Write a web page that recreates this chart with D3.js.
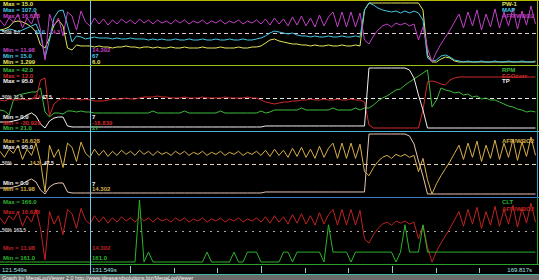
<!DOCTYPE html>
<html>
<head>
<meta charset="utf-8">
<script src="https://cdn.jsdelivr.net/npm/d3@7"></script>
<style>
body { margin: 0; background: #000; }
svg { display: block; }
text { font-family: "Liberation Sans", Arial, sans-serif; }
</style>
</head>
<body>
<svg id="chart" width="539" height="280"></svg>
<script>
// log window
var logStart = 121.549,
    viewSeconds = 59.667,
    sampleStep = 0.5,
    cursorTime = 131.549;

var timeLabels = ["121.549s", "131.549s", "169.817s"];
var tickTimes = [136.0, 140.85, 145.7, 150.55, 155.4, 160.25, 165.1, 169.95, 174.8];
var majorTicks = [136.0, 150.55, 165.1];

// logged channels, one record every sampleStep seconds
var afr = [15.29,14.82,15.45,15.13,15.76,14.66,15.45,14.97,15.92,14.50,
    12.14,15.76,14.82,15.45,14.03,15.92,15.60,14.50,16.00,15.13,
    14.82,15.45,14.97,15.37,14.89,15.29,14.97,15.37,15.05,15.29,
    14.97,15.37,15.05,15.29,14.97,15.29,15.05,15.21,14.97,15.29,
    15.05,15.29,14.97,15.21,15.05,15.29,14.97,15.21,15.05,15.29,
    14.97,15.21,15.05,15.29,14.97,15.21,15.05,15.29,14.97,15.37,
    14.89,15.45,14.97,15.37,14.82,15.53,14.89,15.60,14.82,15.45,
    14.74,15.68,14.82,15.53,15.92,14.74,15.92,14.74,15.92,14.74,
    15.84,13.71,13.40,14.03,14.50,14.82,14.97,14.74,15.05,14.89,
    15.05,14.82,14.97,13.71,14.74,13.08,11.98,12.77,13.40,13.95,
    14.50,15.13,15.76,14.66,15.92,14.82,16.08,14.50,15.76,14.74,
    16.16,14.66,15.92,14.82,16.23,14.58,16.00,14.89,16.39,14.97];

var map = [64.9,63.3,66.5,64.9,61.8,64.9,68.0,71.1,74.3,58.7,
    21.3,49.3,83.6,94.5,96.1,72.7,46.2,55.6,54.0,50.9,
    52.4,54.0,52.4,52.4,52.4,50.9,52.4,50.9,50.9,52.4,
    50.9,50.9,50.9,49.3,50.9,49.3,50.9,49.3,49.3,50.9,
    49.3,49.3,50.9,49.3,49.3,50.9,49.3,49.3,50.9,49.3,
    49.3,50.9,49.3,49.3,50.9,49.3,49.3,50.9,52.4,55.6,
    60.2,63.3,61.8,60.2,58.7,60.2,57.1,55.6,55.6,54.0,
    55.6,54.0,54.0,55.6,54.0,54.0,55.6,54.0,54.0,55.6,
    54.0,96.1,107.0,103.9,99.2,96.1,94.5,93.0,94.5,91.4,
    94.5,91.4,94.5,91.4,80.5,21.3,16.6,18.1,24.4,25.9,
    22.8,18.1,16.6,15.0,16.6,15.0,15.0,16.6,15.0,15.0,
    16.6,15.0,15.0,16.6,15.0,15.0,16.6,15.0,15.0,16.6];

var pw1 = [8.73,8.96,9.43,10.59,10.82,10.59,10.12,9.43,8.27,5.25,
    4.55,6.87,9.89,11.05,9.66,4.55,4.09,5.25,5.02,5.02,
    5.02,4.78,5.02,4.78,4.78,4.55,4.78,4.78,5.02,4.78,
    4.78,4.55,4.78,4.78,4.55,4.78,4.55,4.55,4.78,4.55,
    4.55,4.78,4.55,4.55,4.55,4.78,4.55,4.55,4.55,4.78,
    4.55,4.55,4.55,4.78,4.55,4.55,4.78,4.78,5.02,5.71,
    6.41,6.64,6.18,5.94,5.71,5.48,5.48,5.25,5.25,5.02,
    5.25,5.02,5.02,5.25,5.02,5.02,5.25,5.02,5.02,5.25,
    5.02,13.37,15.0,15.0,15.0,15.0,15.0,15.0,15.0,15.0,
    15.0,15.0,15.0,15.0,13.37,2.93,1.30,1.30,2.00,2.46,
    2.23,1.53,1.30,1.30,1.30,1.30,1.30,1.30,1.30,1.30,
    1.30,1.30,1.30,1.30,1.30,1.30,1.30,1.30,1.30,1.30];

var rpm = [27.3,26.95,25.55,30.8,32.55,32.9,33.25,33.6,33.6,35.0,
    26.6,24.85,26.25,26.25,25.9,26.95,26.95,26.6,26.95,26.6,
    26.6,26.25,26.25,26.25,26.25,26.25,26.25,26.25,26.25,26.25,
    26.25,26.25,26.25,26.25,26.95,26.25,26.25,26.25,26.25,26.25,
    26.25,26.95,26.25,26.25,26.25,26.25,26.25,26.25,26.25,26.95,
    26.25,26.25,26.25,26.25,26.25,26.25,26.25,26.25,26.95,26.25,
    26.6,27.3,27.3,27.3,27.3,27.3,27.3,28.0,27.3,27.3,
    27.3,27.3,27.3,27.3,28.0,27.3,27.3,27.3,27.3,28.0,
    27.3,28.0,28.0,29.05,30.45,31.5,32.2,33.25,34.3,34.65,
    36.05,37.1,38.15,39.2,40.25,41.3,28.35,30.8,35.0,34.3,
    33.95,33.25,33.6,32.55,32.9,31.85,32.2,31.15,31.5,30.8,
    30.8,30.1,29.4,28.7,28.35,27.65,27.3,26.6,26.95,26.6];

var egoCorr = [-10.90,-11.61,-10.18,-10.90,-10.90,-10.18,-10.90,-10.18,-9.47,3.41,
    4.85,-22.34,-13.76,-10.90,-9.47,-10.18,-10.18,-10.18,-10.90,-10.18,
    -10.90,-11.61,-11.61,-11.61,-10.90,-10.18,-10.18,-10.18,-9.47,-10.18,
    -10.18,-9.47,-8.75,-8.75,-8.75,-8.03,-8.75,-8.75,-9.47,-9.47,
    -9.47,-8.75,-9.47,-9.47,-9.47,-8.75,-9.47,-9.47,-9.47,-9.47,
    -8.75,-9.47,-9.47,-9.47,-9.47,-8.75,-9.47,-9.47,-10.90,-12.33,
    -13.04,-13.76,-13.04,-12.33,-12.33,-11.61,-11.61,-10.90,-10.90,-10.18,
    -10.90,-10.90,-10.18,-10.90,-10.90,-10.18,-10.90,-10.90,-10.18,-10.90,
    -10.90,-12.33,-28.78,-30.93,-30.93,-30.93,-30.93,-30.93,-30.93,-30.93,
    -30.93,-30.93,-30.93,-30.93,-18.05,1.98,2.70,1.98,0.55,-0.16,
    3.41,4.85,5.56,5.56,5.56,5.56,5.56,5.56,5.56,5.56,
    5.56,5.56,5.56,5.56,5.56,5.56,5.56,5.56,5.56,5.56];

var tp = [9.5,9.5,9.5,11.1,12.7,15.8,20.6,23.8,19.0,6.3,
    0.0,11.1,15.8,17.4,17.4,3.2,1.6,1.6,1.6,1.6,
    1.6,1.6,1.6,1.6,1.6,1.6,1.6,1.6,1.6,1.6,
    1.6,1.6,1.6,1.6,1.6,1.6,1.6,1.6,1.6,1.6,
    1.6,1.6,1.6,1.6,1.6,1.6,1.6,1.6,1.6,1.6,
    1.6,1.6,1.6,1.6,1.6,1.6,1.6,1.6,1.6,3.2,
    3.2,3.2,3.2,3.2,3.2,3.2,3.2,3.2,3.2,3.2,
    3.2,3.2,3.2,3.2,3.2,3.2,3.2,3.2,3.2,3.2,
    3.2,3.2,95.0,95.0,95.0,95.0,95.0,95.0,95.0,95.0,
    95.0,91.8,79.2,52.3,28.5,0.0,0.0,0.0,0.0,0.0,
    0.0,0.0,0.0,0.0,0.0,0.0,0.0,0.0,0.0,0.0,
    0.0,0.0,0.0,0.0,0.0,0.0,0.0,0.0,0.0,0.0];

var clt = [161,161,161,161,161,161,161,161,161,161,
    161,161,161,161,161,161,161,161,161,161,
    161,161,161,161,161,161,161,161,161,161,
    161,166,161,161.8,161,161,161,161,161,161,
    161,161,161,161,161,161,161.8,161,161,161,
    161,161,161.8,161,161,161.8,161.8,161.8,161,161,
    161,161,161,161.8,161.8,161,161.8,161.8,161.8,161.8,
    161.8,161.8,161,164,161.8,161.8,161.8,161.8,161,161.8,
    161.8,161.8,161.8,161.8,161.8,161.8,161.8,161.8,161,161.8,
    164,161.8,161.8,161.8,164,161.8,161.8,161.8,161.8,161.8,
    161.8,161.8,161.8,161.8,161.8,161.8,161.8,161.8,161.8,161.8,
    161.8,161.8,161.8,161.8,161.8,161.8,161.8,161.8,161.8,161.8];

var svg = d3.select("#chart"),
    plotRight = 537;

var x = d3.scaleLinear()
    .domain([logStart, logStart + viewSeconds])
    .range([0, plotRight]);

var C = {
    yellow: "#e6e65c", cyan: "#44c8e4", magenta: "#c440c8", green: "#3cbc3c",
    red: "#d02a2a", white: "#f2f2f2", gold: "#d8b04a", pink: "#e8c4b4",
    darkred: "#c02222", cltGreen: "#2cb42c", grey: "#cfcfcf"
};

// panel bands, series and the text rows MegaLogViewer writes on them
var panels = [
    {top: 3, bottom: 62, band: [0, 65], edge: "#b8b800", mid: "#e2c8d2", dash: "4,3",
     series: [
        {data: pw1, lo: 1.299, hi: 15, color: C.yellow},
        {data: map, lo: 15, hi: 107, color: C.cyan},
        {data: afr, lo: 11.98, hi: 16.628, color: C.magenta}],
     left: [["Max = 15.0", C.yellow, 3.5], ["Max = 107.0", C.cyan, 9.5], ["Max = 16.628", C.magenta, 15.5],
            ["Min = 11.98", C.magenta, 49.5], ["Min = 15.0", C.cyan, 55.5], ["Min = 1.299", C.yellow, 61.5]],
     cursor: [["14.302", C.magenta, 49.5], ["67", C.cyan, 55.5], ["6.0", C.yellow, 61.5]],
     midText: [["50% 8.1", C.grey, 2], ["61.0", C.cyan, 35], ["14.3", C.magenta, 50]],
     names: [["PW-1", C.yellow, 3.5], ["MAP", C.cyan, 9.5], ["AFR/WBO2", C.magenta, 15.5]]},
    {top: 68, bottom: 128, band: [65, 131], edge: "#48b448", mid: "#e6e6e6", dash: "4,3",
     series: [
        {data: rpm, lo: 21, hi: 42, color: C.green},
        {data: egoCorr, lo: -30.928, hi: 12, color: C.red},
        {data: tp, lo: 0, hi: 95, color: C.white}],
     left: [["Max = 42.0", C.green, 70], ["Max = 12.0", C.red, 75.5], ["Max = 95.0", C.white, 81],
            ["Min = 0.0", C.white, 117], ["Min = -30.928", C.red, 122.5], ["Min = 21.0", C.green, 128]],
     cursor: [["7", C.white, 117], ["-16.839", C.red, 122.5], ["27", C.green, 128]],
     midText: [["50% 31.5", C.grey, 2], ["-9.4", C.red, 32], ["47.5", C.white, 42]],
     names: [["RPM", C.green, 70], ["EGOcorr", C.red, 75.5], ["TP", C.white, 81]]},
    {top: 134, bottom: 194, band: [131, 197], edge: "#3c9cd0", mid: "#e2d2b2", dash: "4,3",
     series: [
        {data: tp, lo: 0, hi: 95, color: C.pink},
        {data: afr, lo: 11.98, hi: 16.628, color: C.gold}],
     left: [["Max = 16.628", C.gold, 140.5], ["Max = 95.0", C.white, 146.5],
            ["Min = 0.0", C.white, 183], ["Min = 11.98", C.gold, 188.5]],
     cursor: [["7", C.white, 184], ["14.302", C.gold, 189]],
     midText: [["50%", C.grey, 2], ["14.3", C.gold, 30], ["47.5", C.white, 44]],
     names: [["AFR/WBO2", C.gold, 141]]},
    {top: 200, bottom: 262, band: [197, 264], edge: "#2ca02c", mid: "#a8a8a8", dash: "2,5",
     series: [
        {data: afr, lo: 11.98, hi: 16.628, color: C.darkred},
        {data: clt, lo: 161, hi: 166, color: C.cltGreen}],
     left: [["Max = 166.0", C.cltGreen, 201.5], ["Max = 16.628", C.darkred, 212],
            ["Min = 11.98", C.darkred, 248], ["Min = 161.0", C.cltGreen, 258]],
     cursor: [["14.302", C.darkred, 248], ["161.0", C.cltGreen, 258]],
     midText: [["50% 163.5", C.grey, 2]],
     names: [["CLT", C.cltGreen, 201.5], ["AFR/WBO2", C.darkred, 209]]}
];

var defs = svg.append("defs");

panels.forEach(function (p, k) {
    defs.append("clipPath").attr("id", "clip" + k)
        .append("rect").attr("x", 0).attr("y", p.band[0])
        .attr("width", plotRight).attr("height", p.band[1] - p.band[0]);

    var g = svg.append("g");
    var midY = Math.round((p.top + p.bottom) / 2) + 0.5;

    g.append("line")
        .attr("x1", 0).attr("x2", plotRight)
        .attr("y1", midY).attr("y2", midY)
        .attr("stroke", p.mid).attr("stroke-dasharray", p.dash);

    var lines = g.append("g").attr("clip-path", "url(#clip" + k + ")");
    p.series.forEach(function (s) {
        var y = d3.scaleLinear().domain([s.lo, s.hi]).range([p.bottom, p.top]);
        lines.append("path")
            .datum(s.data)
            .attr("fill", "none")
            .attr("stroke", s.color)
            .attr("stroke-width", 1)
            .attr("d", d3.line()
                .x(function (d, i) { return x(logStart + i * sampleStep); })
                .y(function (d) { return y(d); }));
    });

    // labels on the left, at the cursor, on the mid line and at the right
    function rows(list, xPos, size, yFor) {
        g.selectAll(null).data(list).enter().append("text")
            .attr("x", function (d) { return xPos === null ? d[2] : xPos; })
            .attr("y", yFor)
            .attr("dy", "0.35em")
            .attr("fill", function (d) { return d[1]; })
            .style("font-size", size)
            .style("font-weight", "bold")
            .text(function (d) { return d[0]; });
    }
    rows(p.left, 3, "6px", function (d) { return d[2]; });
    rows(p.cursor, x(cursorTime) + 2, "6px", function (d) { return d[2]; });
    rows(p.midText, null, "5px", function () { return midY - 1; });
    rows(p.names, 502, "6px", function (d) { return d[2]; });

    // right border of the band
    g.append("line")
        .attr("x1", plotRight + 0.5).attr("x2", plotRight + 0.5)
        .attr("y1", p.band[0]).attr("y2", p.band[1])
        .attr("stroke", p.edge);
});

// band separators
var separators = [[0.5, "#b8b800"], [65.5, "#94c414"], [131.5, "#4ab4da"], [197.5, "#3c78c8"], [264.5, "#2ca02c"], [274.5, "#3cb4a0"]];
svg.selectAll(null).data(separators).enter().append("line")
    .attr("x1", 0).attr("x2", 539)
    .attr("y1", function (d) { return d[0]; }).attr("y2", function (d) { return d[0]; })
    .attr("stroke", function (d) { return d[1]; });

// cursor
svg.append("line")
    .attr("x1", Math.round(x(cursorTime)) + 0.5).attr("x2", Math.round(x(cursorTime)) + 0.5)
    .attr("y1", 0).attr("y2", 274)
    .attr("stroke", "#72cce8");

// time strip
svg.selectAll(null).data(tickTimes).enter().append("line")
    .attr("x1", function (d) { return Math.round(x(d)) + 0.5; })
    .attr("x2", function (d) { return Math.round(x(d)) + 0.5; })
    .attr("y1", function (d) { return majorTicks.indexOf(d) >= 0 ? 266 : 268; })
    .attr("y2", 273)
    .attr("stroke", "#8ad4d4");

svg.append("text").attr("x", 2).attr("y", 269.5).attr("dy", "0.35em")
    .attr("fill", "#a6e2e2").style("font-size", "6px").text(timeLabels[0]);
svg.append("text").attr("x", x(cursorTime) + 2).attr("y", 269.5).attr("dy", "0.35em")
    .attr("fill", "#a6e2e2").style("font-size", "6px").text(timeLabels[1]);
svg.append("text").attr("x", 532).attr("y", 269.5).attr("dy", "0.35em")
    .attr("text-anchor", "end")
    .attr("fill", "#a6e2e2").style("font-size", "6px").text(timeLabels[2]);

// footer
svg.append("rect").attr("x", 0).attr("y", 275).attr("width", 539).attr("height", 5).attr("fill", "#6c6c6c");
svg.append("text").attr("x", 2).attr("y", 279.6)
    .attr("fill", "#f4f4f4").style("font-size", "5.4px")
    .text("Graph by MegaLogViewer 2.0 http://www.ideasandsolutions.biz/MegaLogViewer");
</script>
</body>
</html>
